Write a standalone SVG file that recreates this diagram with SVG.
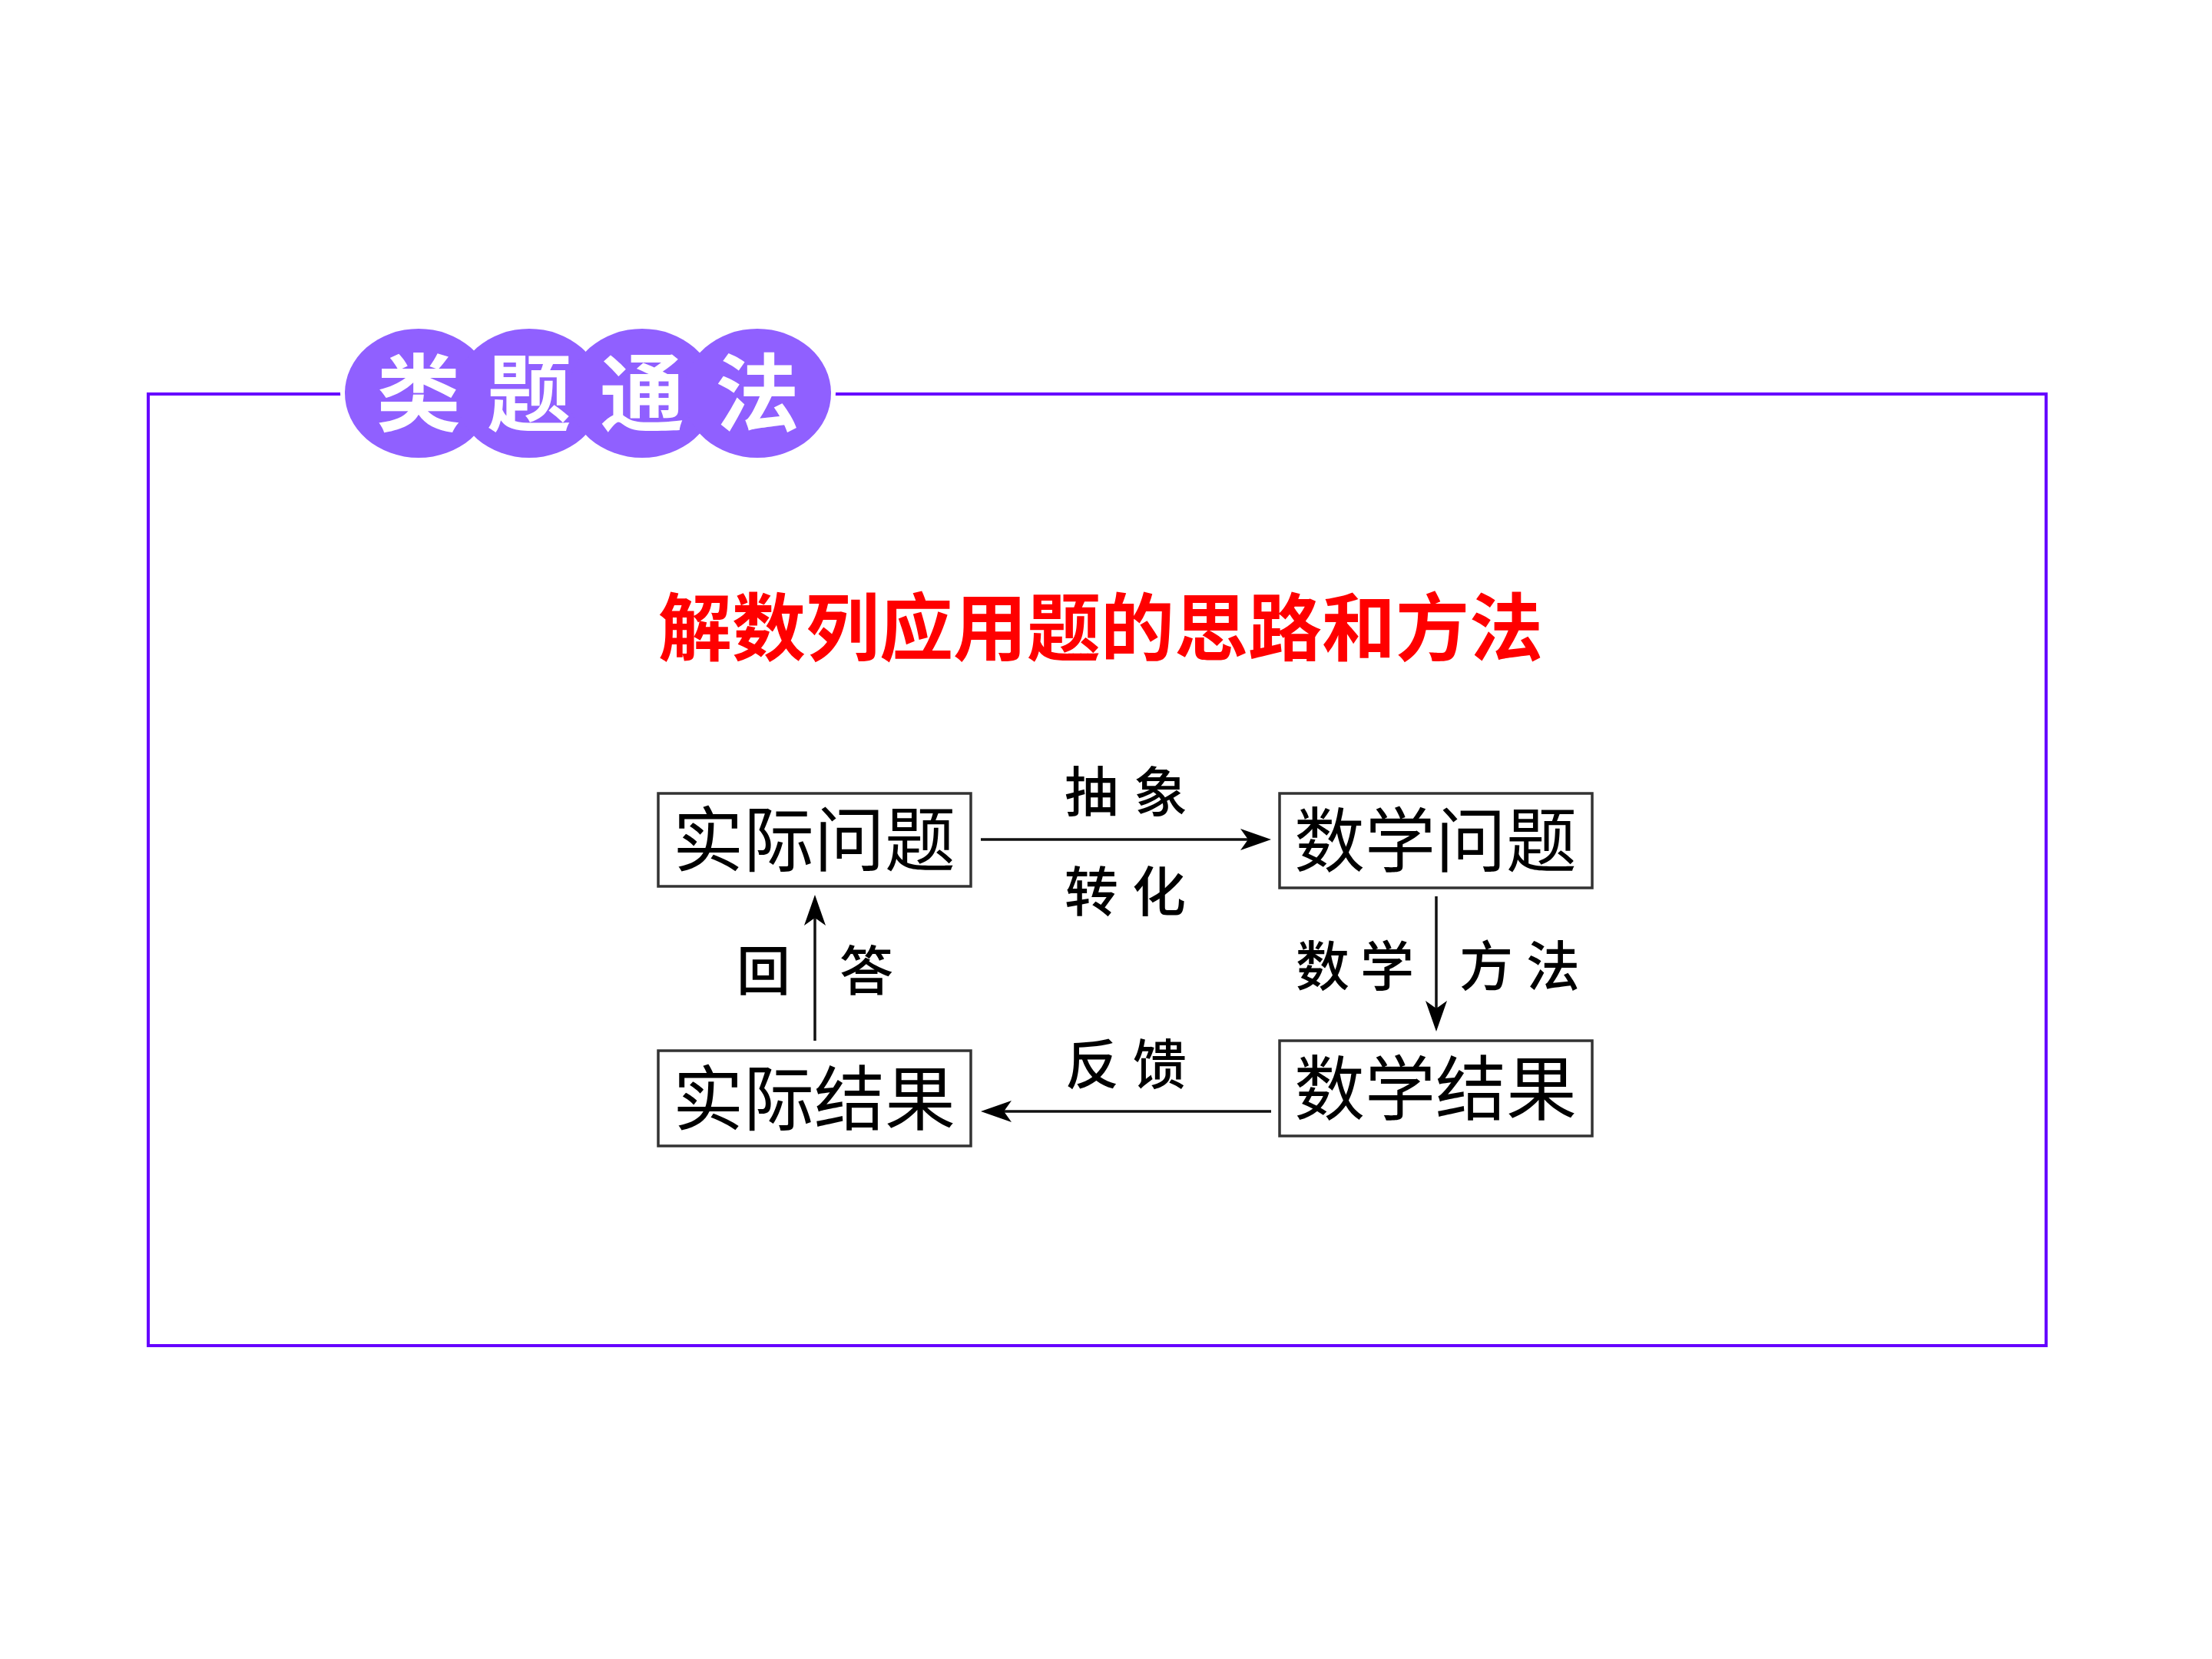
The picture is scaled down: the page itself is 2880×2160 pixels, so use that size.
<svg xmlns="http://www.w3.org/2000/svg" width="2880" height="2160" viewBox="0 0 2880 2160">
<defs>
<style>
.frame{fill:none;stroke:#6600FF;stroke-width:4}
.badgeBg{fill:#ffffff}
.badge{fill:#9060FF}
.badgeText{font-family:"Noto Sans CJK SC","Noto Sans CJK TC",sans-serif;font-size:110px;font-weight:700;fill:#ffffff;text-anchor:middle}
.title{font-family:"Noto Sans CJK SC",sans-serif;font-size:96px;font-weight:700;fill:#FF0000;text-anchor:middle}
.box{fill:#ffffff;stroke:#333333;stroke-width:3.5}
.boxText{font-family:"Noto Sans CJK SC",sans-serif;font-size:92px;fill:#000000;text-anchor:middle}
.label{font-family:"Noto Sans CJK SC",sans-serif;font-size:70px;font-weight:500;fill:#000000;text-anchor:middle}
.conn{stroke:#111111;stroke-width:3.5;fill:none}
</style>
<marker id="arrow" viewBox="0 0 40 28" refX="30" refY="14" markerWidth="40" markerHeight="28" markerUnits="userSpaceOnUse" orient="auto">
<path d="M0,0 L40,14 L0,28 L10,14 Z" fill="#000000"/>
</marker>
</defs>
<rect width="2880" height="2160" fill="#ffffff"/>
<rect class="frame" x="193" y="513" width="2471" height="1239"/>
<g id="badge">
<ellipse class="badgeBg" cx="545" cy="512" rx="102" ry="88"/>
<ellipse class="badgeBg" cx="986" cy="512" rx="102" ry="88"/>
<ellipse class="badge" cx="545" cy="512" rx="96" ry="84"/>
<ellipse class="badge" cx="689" cy="512" rx="96" ry="84"/>
<ellipse class="badge" cx="836" cy="512" rx="96" ry="84"/>
<ellipse class="badge" cx="986" cy="512" rx="96" ry="84"/>
<text class="badgeText" x="545 689 836 986" y="553">类题通法</text>
</g>
<g id="title">
<text class="title" x="1433" y="852">解数列应用题的思路和方法</text>
</g>
<g id="node-shiji-wenti">
<rect class="box" x="857" y="1033" width="407" height="121"/>
<text class="boxText" x="1060" y="1127">实际问题</text>
</g>
<g id="node-shuxue-wenti">
<rect class="box" x="1666" y="1033" width="407" height="123"/>
<text class="boxText" x="1869" y="1128">数学问题</text>
</g>
<g id="node-shuxue-jieguo">
<rect class="box" x="1666" y="1355" width="407" height="124"/>
<text class="boxText" x="1869" y="1451">数学结果</text>
</g>
<g id="node-shiji-jieguo">
<rect class="box" x="857" y="1368" width="407" height="124"/>
<text class="boxText" x="1060" y="1464">实际结果</text>
</g>
<g id="connectors">
<line class="conn" x1="1277" y1="1093" x2="1645" y2="1093" marker-end="url(#arrow)"/>
<line class="conn" x1="1870" y1="1167" x2="1870" y2="1333" marker-end="url(#arrow)"/>
<line class="conn" x1="1655" y1="1447" x2="1287" y2="1447" marker-end="url(#arrow)"/>
<line class="conn" x1="1061" y1="1355" x2="1061" y2="1175" marker-end="url(#arrow)"/>
<text class="label" x="1421 1511" y="1057">抽象</text>
<text class="label" x="1421 1509" y="1187">转化</text>
<text class="label" x="1722 1806" y="1284">数学</text>
<text class="label" x="1935 2022" y="1284">方法</text>
<text class="label" x="1422 1510" y="1412">反馈</text>
<text class="label" x="994 1128" y="1290">回答</text>
</g>
</svg>
